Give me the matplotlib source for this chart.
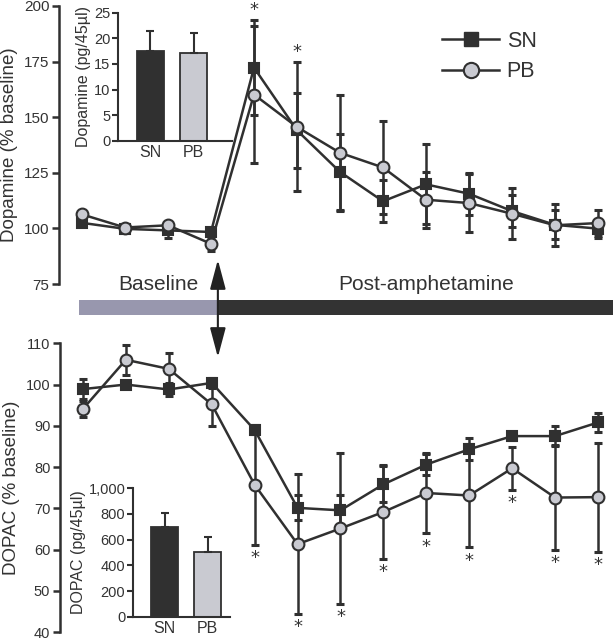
import matplotlib
matplotlib.use("Agg")
import matplotlib.pyplot as plt
from matplotlib.patches import FancyArrowPatch
from matplotlib.lines import Line2D
import numpy as np

plt.rcParams['font.family'] = ['Liberation Sans', 'DejaVu Sans']

# ---------------- data ----------------
timepoints = list(range(1, 14))

da_sn = [102.5, 99.8, 99.1, 98.4, 172.3, 144.1, 125.4, 112.2, 119.8, 115.6, 107.8, 101.6, 99.9]
da_sn_err = [1.5, 1.2, 3.5, 1.5, 21.4, 17.0, 17.0, 9.5, 18.0, 9.5, 7.0, 6.5, 4.0]
da_pb = [106.3, 100.4, 101.4, 93.1, 160.2, 145.6, 134.0, 127.4, 112.9, 111.4, 106.6, 101.4, 102.4]
da_pb_err = [1.5, 1.2, 1.5, 3.2, 30.7, 29.0, 26.0, 21.0, 12.5, 13.0, 11.5, 9.5, 6.0]
da_star_points = [5, 6]

dopac_sn = [98.9, 100.0, 98.8, 100.4, 89.0, 70.1, 69.5, 75.8, 80.6, 84.3, 87.5, 87.5, 90.8]
dopac_sn_err = [2.5, 0.8, 1.5, 1.3, 1.0, 3.0, 3.6, 4.4, 2.5, 2.7, 1.0, 2.5, 2.3]
dopac_pb = [94.1, 106.0, 103.8, 95.2, 75.7, 61.3, 65.1, 69.1, 73.7, 73.1, 79.7, 72.6, 72.7]
dopac_pb_err = [2.0, 3.7, 3.8, 5.3, 14.5, 17.0, 18.2, 11.4, 9.8, 12.6, 5.2, 12.7, 13.2]
dopac_star_points = [5, 6, 7, 8, 9, 10, 11, 12, 13]

groups = ['SN', 'PB']
da_basal = [17.6, 17.1]
da_basal_err = [3.9, 4.0]
dopac_basal = [701, 506]
dopac_basal_err = [104, 112]

da_ticks = [75, 100, 125, 150, 175, 200]
dopac_ticks = [40, 50, 60, 70, 80, 90, 100, 110]
da_inset_ticks = [0, 5, 10, 15, 20, 25]
dopac_inset_ticks = [0, 200, 400, 600, 800, 1000]
dopac_inset_ticklabels = ['0', '200', '400', '600', '800', '1,000']

baseline_span = (0.93, 4.16)
injection_x = 4.16

# ---------------- style ----------------
DARK = '#303030'
LIGHT = '#c9cad1'
TXT = '#333333'
W, H = 613, 639
XLIM = (0.465, 13.35)

fig = plt.figure(figsize=(W / 100, H / 100), dpi=100)


def fr(x0, y0, x1, y1):
    # pixel box -> figure fraction rect
    return [x0 / W, 1 - y1 / H, (x1 - x0) / W, (y1 - y0) / H]


def style_main(ax, ticks):
    for s in ['top', 'right', 'bottom']:
        ax.spines[s].set_visible(False)
    ax.spines['left'].set_linewidth(1.8)
    ax.spines['left'].set_color(DARK)
    ax.set_yticks(ticks)
    ax.tick_params(axis='y', direction='out', length=5, width=1.8, color=DARK,
                   labelsize=11, labelcolor=TXT, pad=2)
    ax.set_xticks([])
    ax.set_xlim(*XLIM)
    ax.patch.set_alpha(0)


def plot_series(ax, y, e, marker, face, ms):
    ax.errorbar(timepoints, y, yerr=e, fmt='none', ecolor=DARK, elinewidth=1.8,
                capsize=2.8, capthick=2.2, zorder=2)
    ax.plot(timepoints, y, color=DARK, lw=1.8, marker=marker, ms=ms,
            mfc=face, mec=DARK, mew=1.5, zorder=3)


# ---- top panel ----
ax1 = fig.add_axes(fr(59, 6, 613, 284))
style_main(ax1, da_ticks)
ax1.set_ylim(75, 200)
plot_series(ax1, da_sn, da_sn_err, 's', DARK, 7.5)
plot_series(ax1, da_pb, da_pb_err, 'o', LIGHT, 8.5)
ax1.set_ylabel('Dopamine (% baseline)', fontsize=13.5, color=TXT, labelpad=4)
for p in da_star_points:
    i = p - 1
    top = max(da_sn[i] + da_sn_err[i], da_pb[i] + da_pb_err[i])
    ax1.annotate('*', (p, top), xytext=(0, 1), textcoords='offset points',
                 ha='center', va='bottom', fontsize=13, color=TXT,
                 family='DejaVu Sans')

ax1.text(2.77, 75, 'Baseline', ha='center', va='center', fontsize=15, color=TXT)
ax1.text(9.01, 75, 'Post-amphetamine', ha='center', va='center', fontsize=15, color=TXT)

h_sn = Line2D([], [], color=DARK, lw=1.8, marker='s', ms=10, mfc=DARK, mec=DARK)
h_pb = Line2D([], [], color=DARK, lw=1.8, marker='o', ms=11, mfc=LIGHT, mec=DARK, mew=1.5)
leg = ax1.legend([h_sn, h_pb], ['SN', 'PB'], loc='upper left',
                 bbox_to_anchor=(442 / W, 1 - 31 / H), bbox_transform=fig.transFigure,
                 frameon=False, fontsize=15.5, handlelength=2.65, handletextpad=0.35,
                 labelspacing=0.42, borderpad=0, borderaxespad=0)
for t in leg.get_texts():
    t.set_color(TXT)

# ---- band ----
axb = fig.add_axes(fr(59, 300, 613, 315))
axb.set_xlim(*XLIM)
axb.set_ylim(0, 1)
axb.axis('off')
axb.barh(0.5, baseline_span[1] - baseline_span[0], left=baseline_span[0], height=1,
         color='#9897ae', edgecolor='none')
axb.barh(0.5, XLIM[1] - injection_x, left=injection_x, height=1,
         color='#333333', edgecolor='none')

# ---- bottom panel ----
ax2 = fig.add_axes(fr(60, 343.3, 613, 632))
style_main(ax2, dopac_ticks)
ax2.tick_params(axis='y', labelsize=10.5)
ax2.set_ylim(40, 110)
plot_series(ax2, dopac_sn, dopac_sn_err, 's', DARK, 7.5)
plot_series(ax2, dopac_pb, dopac_pb_err, 'o', LIGHT, 8.5)
ax2.set_ylabel('DOPAC (% baseline)', fontsize=13.5, color=TXT, labelpad=4)
for p in dopac_star_points:
    i = p - 1
    bot = min(dopac_sn[i] - dopac_sn_err[i], dopac_pb[i] - dopac_pb_err[i])
    ax2.annotate('*', (p, bot), xytext=(0, -3), textcoords='offset points',
                 ha='center', va='top', fontsize=13, color=TXT,
                 family='DejaVu Sans')

# ---- arrow (injection) ----
xa = ax1.transData.transform((injection_x, 0))[0]
arr = FancyArrowPatch((xa, H - 257), (xa, H - 360), transform=None,
                      arrowstyle='<|-|>,head_length=1.2,head_width=0.32',
                      mutation_scale=15, color='#222222', lw=1.5)
fig.patches.append(arr)


# ---- insets ----
def inset(rect, vals, errs, ticks, ticklabels, ylim, xlim, ylabel):
    ax = fig.add_axes(rect)
    xs = np.arange(len(groups))
    ax.bar(xs, vals, width=0.62, color=[DARK, LIGHT], edgecolor=DARK, linewidth=1.3,
           yerr=[[0] * len(errs), errs], error_kw=dict(ecolor=DARK, elinewidth=1.5,
                                                        capsize=2.8, capthick=1.5))
    ax.set_ylim(*ylim)
    ax.set_xlim(*xlim)
    for s in ['top', 'right']:
        ax.spines[s].set_visible(False)
    for s in ['left', 'bottom']:
        ax.spines[s].set_linewidth(1.5)
        ax.spines[s].set_color(DARK)
    ax.set_yticks(ticks)
    ax.set_yticklabels(ticklabels)
    ax.set_xticks(xs)
    ax.set_xticklabels(groups)
    ax.tick_params(axis='y', direction='out', length=4, width=1.5, color=DARK,
                   labelsize=10.5, labelcolor=TXT, pad=1.5)
    ax.tick_params(axis='x', length=0, labelsize=11.5, labelcolor=TXT, pad=3)
    ax.set_ylabel(ylabel, fontsize=11.5, color=TXT, labelpad=2)
    ax.patch.set_alpha(0)
    return ax


inset(fr(118, 12.7, 232, 140.7), da_basal, da_basal_err, da_inset_ticks,
      [str(t) for t in da_inset_ticks], (0, 25), (-0.744, 1.88), 'Dopamine (pg/45µl)')
inset(fr(133, 488.3, 230, 616.7), dopac_basal, dopac_basal_err, dopac_inset_ticks,
      dopac_inset_ticklabels, (0, 1000), (-0.737, 1.52), 'DOPAC (pg/45µl)')

fig.savefig('out.png', dpi=100)
